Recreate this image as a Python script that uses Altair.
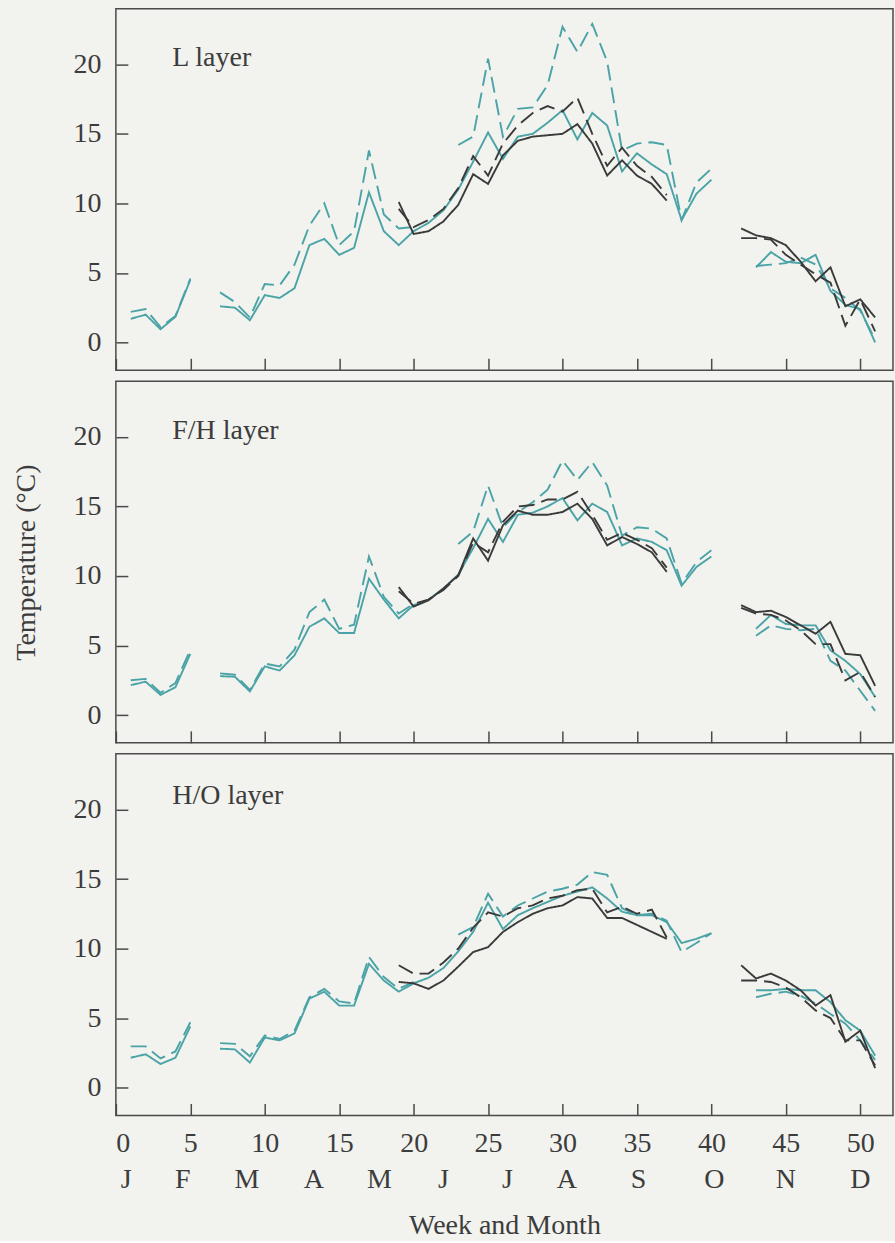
import altair as alt
import pandas as pd

N = None
weeks = list(range(1, 52))

panel_names = ["L layer", "F/H layer", "H/O layer"]
series_names = ["teal solid", "teal dashed", "dark dashed", "dark solid"]

# ---------------- L layer ----------------
l_teal_solid = ([1.7, 2.0, 0.95, 1.85, 4.5] + [N] +
                [2.6, 2.5, 1.6, 3.4, 3.2, 3.9, 7.0, 7.45, 6.3, 6.8, 10.8, 8.0, 7.0, 8.0] +
                [8.6, 9.5, 11.0, 13.0, 15.1, 13.2, 14.8, 15.0, 15.8, 16.7, 14.6, 16.5, 15.6, 12.3,
                 13.6, 12.8, 12.1, 8.8, 10.7, 11.7] + [N, N] +
                [5.4, 6.5, 5.8, 5.7, 6.3, 3.7, 2.7, 2.4, 0.0])
l_teal_dashed = ([2.2, 2.4, 1.1, 1.9, 4.6] + [N] +
                 [3.6, 2.9, 1.8, 4.2, 4.1, 5.6, 8.4, 10.0, 7.0, 8.0, 13.8, 9.2, 8.2, 8.3] + [N, N] +
                 [14.2, 14.8, 20.4, 14.8, 16.8, 16.9, 18.5, 22.7, 20.9, 22.9, 20.2, 13.8, 14.3, 14.4,
                  14.2, 8.8, 11.5, 12.5] + [N, N] +
                 [5.5, 5.6, 5.7, 6.1, 5.6, 3.9, 3.2, 2.3, 0.2])
l_dark_dashed = ([N] * 18 +
                 [9.6, 8.3, 8.8, 9.6, 11.1, 13.4, 12.0, 14.3, 15.6, 16.5, 17.0, 16.6, 17.6, 15.0,
                  12.7, 14.0, 12.7, 11.9, 10.6] + [N] * 4 +
                 [7.5, 7.5, 7.4, 6.3, 5.6, 4.9, 4.3, 1.2, 3.1, 0.8])
l_dark_solid = ([N] * 18 +
                [10.1, 7.8, 8.0, 8.7, 9.9, 12.1, 11.4, 13.45, 14.5, 14.8, 14.9, 15.0, 15.7, 14.3,
                 12.0, 13.1, 12.0, 11.4, 10.2] + [N] * 4 +
                [8.2, 7.7, 7.5, 7.0, 5.8, 4.4, 5.4, 2.6, 3.1, 1.8])

# ---------------- F/H layer ----------------
f_teal_solid = ([2.15, 2.4, 1.45, 2.0, 4.4] + [N] +
                [2.8, 2.75, 1.7, 3.5, 3.2, 4.3, 6.35, 6.95, 5.9, 5.9, 9.8, 8.3, 6.95, 7.9] +
                [8.3, 9.1, 10.1, 12.0, 14.1, 12.45, 14.4, 14.55, 15.0, 15.6, 14.0, 15.2, 14.6, 12.2,
                 12.7, 12.45, 11.85, 9.3, 10.65, 11.4] + [N, N] +
                [6.2, 7.2, 6.55, 6.45, 6.45, 4.65, 3.9, 2.95, 1.3])
f_teal_dashed = ([2.5, 2.6, 1.6, 2.3, 4.7] + [N] +
                 [3.0, 2.9, 1.8, 3.7, 3.5, 4.7, 7.4, 8.3, 6.2, 6.5, 11.4, 8.5, 7.3, 8.0] + [N, N] +
                 [12.3, 13.2, 16.5, 13.5, 14.6, 15.3, 16.2, 18.3, 16.9, 18.2, 16.5, 12.9, 13.5, 13.4,
                  12.7, 9.45, 11.0, 11.85] + [N, N] +
                 [5.7, 6.45, 6.2, 6.1, 6.2, 3.9, 3.2, 1.75, 0.3])
f_dark_dashed = ([N] * 18 +
                 [8.9, 8.0, 8.3, 9.0, 10.0, 12.4, 11.7, 13.9, 15.0, 15.1, 15.5, 15.5, 16.05, 14.4,
                  12.6, 13.1, 12.6, 12.0, 10.6] + [N] * 4 +
                 [7.7, 7.3, 7.2, 6.8, 6.1, 5.1, 5.1, 2.5, 3.1, 1.3])
f_dark_solid = ([N] * 18 +
                [9.2, 7.8, 8.25, 9.1, 10.05, 12.7, 11.1, 13.65, 14.7, 14.4, 14.4, 14.6, 15.2, 14.1,
                 12.2, 12.8, 12.3, 11.7, 10.3] + [N] * 4 +
                [7.9, 7.4, 7.5, 7.05, 6.45, 5.85, 6.7, 4.4, 4.3, 2.1])

# ---------------- H/O layer ----------------
h_teal_solid = ([2.15, 2.4, 1.7, 2.15, 4.4] + [N] +
                [2.8, 2.75, 1.8, 3.6, 3.4, 3.9, 6.4, 6.9, 5.9, 5.9, 8.9, 7.7, 6.9, 7.5] +
                [7.9, 8.6, 9.8, 11.2, 13.3, 11.4, 12.4, 12.9, 13.35, 13.8, 14.1, 14.4, 13.6, 12.65,
                 12.4, 12.4, 11.9, 10.4, 10.7, 11.1] + [N, N] +
                [7.0, 7.0, 7.1, 7.0, 7.0, 6.15, 4.85, 4.1, 2.3])
h_teal_dashed = ([2.97, 2.97, 2.1, 2.6, 4.7] + [N] +
                 [3.2, 3.15, 2.25, 3.75, 3.5, 4.1, 6.5, 7.1, 6.2, 6.05, 9.4, 7.95, 7.1, 7.6] + [N, N] +
                 [11.0, 11.55, 13.95, 12.3, 13.1, 13.6, 14.1, 14.3, 14.6, 15.5, 15.3, 12.9, 12.4, 12.5,
                  12.0, 9.75, 10.4, 11.1] + [N, N] +
                 [6.5, 6.75, 6.9, 6.6, 6.05, 5.3, 4.6, 3.4, 2.0])
h_dark_dashed = ([N] * 18 +
                 [8.8, 8.2, 8.2, 9.0, 10.0, 11.5, 12.6, 12.3, 12.9, 13.1, 13.6, 13.8, 14.2, 14.3,
                  12.6, 13.0, 12.5, 12.8, 10.8] + [N] * 4 +
                 [7.7, 7.7, 7.6, 7.2, 6.5, 5.55, 5.0, 3.4, 3.4, 1.6])
h_dark_solid = ([N] * 18 +
                [7.6, 7.5, 7.1, 7.7, 8.7, 9.75, 10.1, 11.2, 11.9, 12.5, 12.9, 13.1, 13.7, 13.6,
                 12.2, 12.2, 11.7, 11.2, 10.7] + [N] * 4 +
                [8.8, 7.85, 8.2, 7.7, 7.0, 5.9, 6.65, 3.3, 4.1, 1.4])

x_tick_values = [0, 5, 10, 15, 20, 25, 30, 35, 40, 45, 50]
y_tick_values = [0, 5, 10, 15, 20]
month_labels = ["J", "F", "M", "A", "M", "J", "J", "A", "S", "O", "N", "D"]
month_weeks = [0.7, 4.5, 8.8, 13.3, 17.7, 22.0, 26.3, 30.3, 35.1, 40.2, 45.0, 50.0]

panel_series = {
    "L layer": [l_teal_solid, l_teal_dashed, l_dark_dashed, l_dark_solid],
    "F/H layer": [f_teal_solid, f_teal_dashed, f_dark_dashed, f_dark_solid],
    "H/O layer": [h_teal_solid, h_teal_dashed, h_dark_dashed, h_dark_solid],
}

# build long table, splitting each series into continuous segments
rows = []
for pname, series_list in panel_series.items():
    for sname, vals in zip(series_names, series_list):
        seg = 0
        prev = None
        for w, v in zip(weeks, vals):
            if v is None:
                prev = None
                continue
            if prev is None:
                seg += 1
            rows.append({"panel": pname, "series": sname, "key": f"{sname}-{seg}",
                         "week": w, "temp": v})
            prev = v
df = pd.DataFrame(rows)

months_df = pd.DataFrame({"week": month_weeks, "m": month_labels})

FONT = "Liberation Serif"
TEXT = "#3c3c3c"
DARK = "#3a3a3a"
TEAL = "#4aa3a6"
FRAME = "#4a4a4a"
FS = 28
W, H = 778, 362

color_scale = alt.Scale(domain=series_names, range=[TEAL, TEAL, DARK, DARK])
dash_scale = alt.Scale(domain=series_names, range=[[1, 0], [16, 7], [16, 7], [1, 0]])
x_scale = alt.Scale(domain=[0, 52.2], nice=False, zero=False)
y_scale = alt.Scale(domain=[-2, 24], nice=False, zero=False)

label_y = {"L layer": 57, "F/H layer": 58, "H/O layer": 50}


def make_panel(i, pname):
    bottom = i == 2
    middle = i == 1
    if bottom:
        x_axis = alt.Axis(values=x_tick_values, offset=-12, tickSize=12, domain=False, grid=False,
                          tickColor=FRAME, tickWidth=1.5, labels=True, labelPadding=14,
                          labelFont=FONT, labelFontSize=FS, labelColor=TEXT,
                          title="Week and Month", titlePadding=54, titleFont=FONT,
                          titleFontSize=FS, titleFontWeight="normal", titleColor=TEXT)
    else:
        x_axis = alt.Axis(values=x_tick_values, offset=-12, tickSize=12, domain=False, grid=False,
                          tickColor=FRAME, tickWidth=1.5, labels=False, title=None)
    if middle:
        y_axis = alt.Axis(values=y_tick_values, offset=-12, tickSize=12, domain=False, grid=False,
                          tickColor=FRAME, tickWidth=1.5, labelPadding=15, labelFont=FONT,
                          labelFontSize=FS, labelColor=TEXT,
                          title="Temperature (°C)", titlePadding=32, titleFont=FONT,
                          titleFontSize=FS, titleFontWeight="normal", titleColor=TEXT)
    else:
        y_axis = alt.Axis(values=y_tick_values, offset=-12, tickSize=12, domain=False, grid=False,
                          tickColor=FRAME, tickWidth=1.5, labelPadding=15, labelFont=FONT,
                          labelFontSize=FS, labelColor=TEXT, title=None)

    x_enc = alt.X("week:Q", scale=x_scale, axis=x_axis)

    lines = alt.Chart(df[df["panel"] == pname]).mark_line(strokeWidth=1.9).encode(
        x=x_enc,
        y=alt.Y("temp:Q", scale=y_scale, axis=y_axis),
        color=alt.Color("series:N", scale=color_scale, legend=None),
        strokeDash=alt.StrokeDash("series:N", scale=dash_scale, legend=None),
        detail="key:N",
        order=alt.Order("week:Q"),
    )
    label = alt.Chart(pd.DataFrame({"t": [pname]})).mark_text(
        align="left", baseline="alphabetic", font=FONT, fontSize=FS, color=TEXT
    ).encode(text="t:N", x=alt.value(56.5), y=alt.value(label_y[pname]))

    layers = [lines, label]
    if bottom:
        months = alt.Chart(months_df).mark_text(
            baseline="alphabetic", font=FONT, fontSize=FS, color=TEXT
        ).encode(x=x_enc, y=alt.value(435), text="m:N")
        layers.append(months)
    return alt.layer(*layers).properties(width=W, height=H)


chart = alt.vconcat(*[make_panel(i, p) for i, p in enumerate(panel_names)], spacing=8).configure(
    background="#f2f2ee",
    padding={"left": 12, "top": 7, "right": 1, "bottom": 0},
).configure_view(stroke=FRAME, strokeWidth=1.5)

chart.save("out.html", embed_options={"renderer": "svg", "actions": False})
